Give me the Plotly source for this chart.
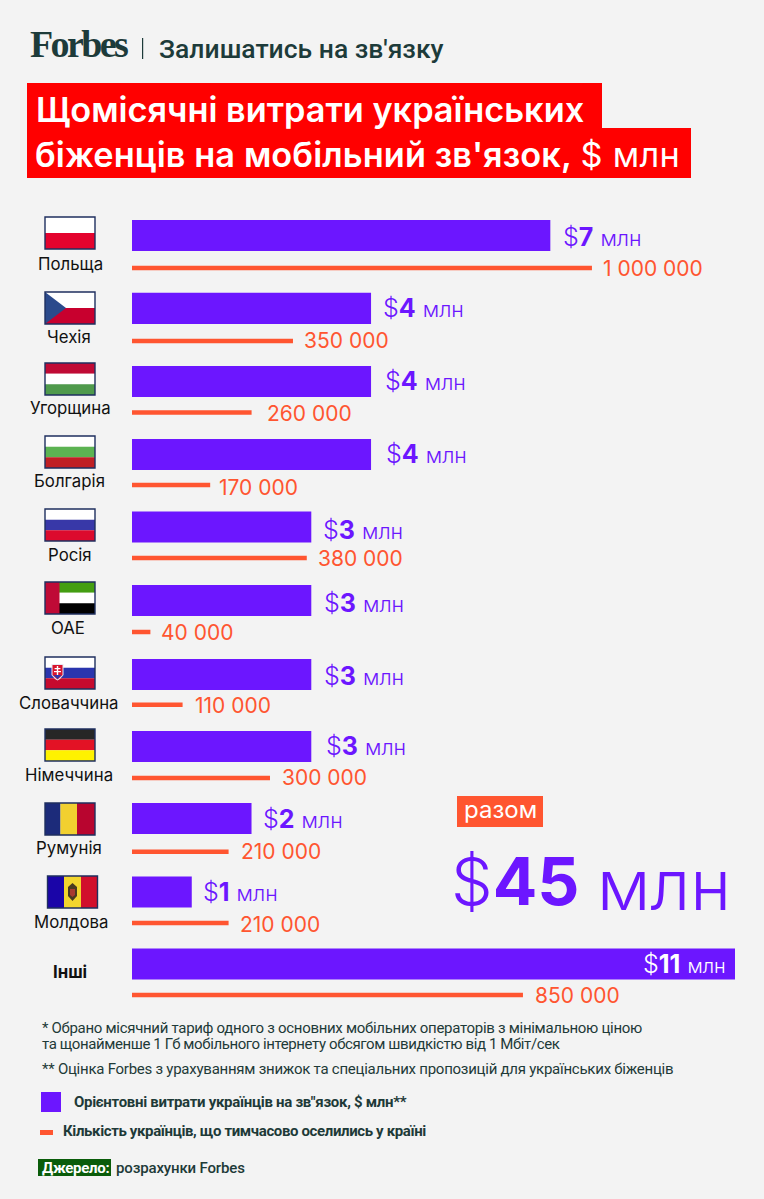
import plotly.graph_objects as go

W, H = 764, 1199
PURPLE = "#6c16ff"
ORANGE = "#ff5530"
DARK = "#1d3b3a"

# data
countries = ["Польща", "Чехія", "Угорщина", "Болгарія", "Росія", "ОАЕ", "Словаччина",
             "Німеччина", "Румунія", "Молдова", "Інші"]
spend_mln = [7, 4, 4, 4, 3, 3, 3, 3, 2, 1, 11]
refugees = [1000000, 350000, 260000, 170000, 380000, 40000, 110000, 300000, 210000, 210000, 850000]
total_mln = 45

# small nudges, in pixels
spend_dx = [12, 11, 13, 14, 11, 12, 12, 14, 10.5, 10]
spend_dy = [1, 0, 0, 0, 3, 3, 3, 1, 1, 1]
people_dx = [10, 10, 14, 8, 10, 10, 11, 11, 11, 10, 11]
people_dy = [1, 0, 0, 1, 0, 1, 1, 1, 2, 2, 0]
bar_nudge = [0, 0, 0.3, 0.5, 0, 0.75, 1.9, 1, 0.2, 0.85, 0]
line_nudge = [0, 0.3, -0.9, -1.1, -0.8, 0.5, 0.5, 1.1, 2.1, 0.7, 0]
label_cx = [70, 69, 70, 69, 70, 68, 69, 69, 69, 71, 70]
label_y = [263.5, 337.5, 408.5, 481.5, 554.5, 627.5, 702.5, 774.5, 848.5, 921.5, 971.5]
flag_top = [217, 292, 363, 436, 509, 582, 657, 729, 803, 876]

PITCH = 72.8
BAR_W = 0.426
LINE_W = 0.062


def px(x):
    return x / W


def py(y):
    return 1 - y / H


fig = go.Figure()
fig.add_trace(go.Bar(x=spend_mln, y=countries, orientation="h", marker_color=PURPLE,
                     marker_line_width=0, width=BAR_W, offset=[n / PITCH - BAR_W / 2 for n in bar_nudge],
                     xaxis="x", yaxis="y"))
fig.add_trace(go.Bar(x=refugees, y=countries, orientation="h", marker_color=ORANGE,
                     marker_line_width=0, width=LINE_W, offset=[n / PITCH - LINE_W / 2 for n in line_nudge],
                     xaxis="x2", yaxis="y2"))

shapes = []
annotations = []


def rect(x0, y0, x1, y1, color, line=None, lw=0):
    shapes.append(dict(type="rect", xref="paper", yref="paper", x0=px(x0), x1=px(x1), y0=py(y0), y1=py(y1),
                       fillcolor=color, line=dict(color=line or color, width=lw), layer="above"))


def poly(points, color):
    p = "M" + " L".join(f"{px(a):.5f},{py(b):.5f}" for a, b in points) + " Z"
    shapes.append(dict(type="path", xref="paper", yref="paper", path=p, fillcolor=color,
                       line=dict(width=0), layer="above"))


def text(x, y, s, size, color="black", family="Inter", anchor="left", weight=None, spacing=None):
    f = dict(size=size, color=color, family=family)
    if weight:
        f["weight"] = weight
    if spacing is not None:
        s = f"<span style='letter-spacing:{spacing}px'>{s}</span>"
    annotations.append(dict(xref="paper", yref="paper", x=px(x), y=py(y), text=s, showarrow=False,
                            xanchor=anchor, yanchor="middle", borderpad=0, font=f))


def h_flag(x, y, cols, w=50, h=32):
    for i, c in enumerate(cols):
        rect(x, y + h * i / len(cols), x + w, y + h * (i + 1) / len(cols), c)


def outline(x, y, w=50, h=32):
    shapes.append(dict(type="rect", xref="paper", yref="paper", x0=px(x), x1=px(x + w), y0=py(y), y1=py(y + h),
                       line=dict(color="#1f2f5f", width=1.4), layer="above"))


# flags
h_flag(45, flag_top[0], ["#ffffff", "#e4032e"])
h_flag(45, flag_top[1], ["#ffffff", "#c8002e"])
poly([(45, flag_top[1]), (66, flag_top[1] + 16), (45, flag_top[1] + 32)], "#2b4a8c")
h_flag(45, flag_top[2], ["#c00a35", "#ffffff", "#4f9a4c"])
h_flag(45, flag_top[3], ["#ffffff", "#5cb352", "#c01f24"])
h_flag(45, flag_top[4], ["#ffffff", "#3838a8", "#dc0a2d"])
t = flag_top[5]
h_flag(45, t, ["#449e12", "#ffffff", "#000000"])
rect(45, t, 59.5, t + 32, "#bf0a36")
t = flag_top[6]
h_flag(45, t, ["#ffffff", "#2a35ae", "#c60a2e"])
poly([(51.5, t + 7), (63.5, t + 7), (63.5, t + 18), (60, t + 22), (57.5, t + 23.5), (55, t + 22), (51.5, t + 18)], "#e8e8f2")
poly([(52.5, t + 8), (62.5, t + 8), (62.5, t + 18), (57.5, t + 22.5), (52.5, t + 18)], "#d8142e")
poly([(53.5, t + 18), (61.5, t + 18), (57.5, t + 22)], "#2a35ae")
rect(56.8, t + 9, 58.2, t + 18, "#ffffff")
rect(54.6, t + 11, 60.4, t + 12.2, "#ffffff")
rect(54, t + 14, 61, t + 15.2, "#ffffff")
h_flag(45, flag_top[7], ["#262626", "#e31225", "#fff200"])
t = flag_top[8]
rect(45, t, 60.5, t + 32, "#1c2b7a")
rect(60.5, t, 77, t + 32, "#f2d030")
rect(77, t, 95, t + 32, "#b8052f")
t = flag_top[9]
rect(47.5, t, 64, t + 32, "#1a05a8")
rect(64, t, 81, t + 32, "#f2d52e")
rect(81, t, 98, t + 32, "#d10f2c")
poly([(68, t + 11), (72.5, t + 7), (77, t + 11), (77, t + 20), (72.5, t + 25), (68, t + 20)], "#4a3a20")
poly([(70, t + 13), (75, t + 13), (75, t + 19), (72.5, t + 21), (70, t + 19)], "#a83a30")
for i, t in enumerate(flag_top):
    outline(47.5 if i == 9 else 45, t)

# header
text(29, 44, "Forbes", 38, DARK, "Liberation Serif", weight=700, spacing=-2.6)
rect(142, 38, 143.2, 59, DARK)
text(157.5, 48, "Залишатись на зв'язку", 26.5, DARK, "Roboto", weight=500)
rect(27, 83, 602, 130, "#ff0000")
rect(27, 128, 691, 178, "#ff0000")
text(35, 109, "Щомісячні витрати українських", 34.3, "white", weight=600)
text(34, 155, "<span style='letter-spacing:0.1px'>біженців на мобільний зв'язок,</span> "
              "<span style='font-weight:400;letter-spacing:0.3px'>$ млн</span>", 34.3, "white", weight=600)

# country names
for i, c in enumerate(countries):
    s = f"<b>{c}</b>" if c == "Інші" else c
    text(label_cx[i], label_y[i], s, 16.8, "#111111", anchor="center")


def money(v, small=21.5):
    return (f"<span style='font-weight:300'>$</span><b>{v}</b> "
            f"<span style='font-size:{small}px;font-weight:350'>млн</span>")


# value labels, tied to the axes
for i in range(10):
    annotations.append(dict(xref="x", yref="y", x=spend_mln[i], y=countries[i], text=money(spend_mln[i]),
                            showarrow=False, xanchor="left", yanchor="middle", xshift=spend_dx[i],
                            yshift=-spend_dy[i], borderpad=0,
                            font=dict(size=25, color=PURPLE, family="Inter")))
for i, r in enumerate(refugees):
    annotations.append(dict(xref="x2", yref="y2", x=r, y=countries[i], text=f"{r:,}".replace(",", " "),
                            showarrow=False, xanchor="left", yanchor="middle", xshift=people_dx[i],
                            yshift=-people_dy[i], borderpad=0,
                            font=dict(size=21, color=ORANGE, family="Inter")))
annotations.append(dict(xref="paper", yref="y", x=px(727), y=countries[10], text=money(spend_mln[10], 20),
                        showarrow=False, xanchor="right", yanchor="middle", borderpad=0,
                        font=dict(size=25, color="white", family="Inter")))

# total
rect(457, 796, 543, 827, ORANGE)
text(500, 809, "разом", 24, "white", anchor="center")
text(450, 881, f"<span style='font-weight:300'>$</span><b>{total_mln}</b>", 66, PURPLE)
text(596, 884, "млн", 70, PURPLE, weight=300)

# footnotes
note = "#1e3a38"
text(41, 1028, "* Обрано місячний тариф одного з основних мобільних операторів з мінімальною ціною", 15, note, "Roboto", spacing=-0.3)
text(41, 1044, "та щонайменше 1 Гб мобільного інтернету обсягом швидкістю від 1 Мбіт/сек", 15, note, "Roboto", spacing=-0.4)
text(41, 1069, "** Оцінка Forbes з урахуванням знижок та спеціальних пропозицій для українських біженців", 15, note, "Roboto", spacing=-0.25)
rect(41, 1092, 61, 1112, PURPLE)
text(73, 1102, "Орієнтовні витрати українців на зв\"язок, $ млн**", 15, note, "Roboto", weight=700, spacing=-0.3)
rect(40, 1130, 53, 1135, ORANGE)
text(62, 1131, "Кількість українців, що тимчасово оселились у країні", 15, note, "Roboto", weight=700, spacing=-0.37)
rect(38, 1159, 111, 1176, "#0a5c0a")
text(41, 1168, "Джерело:", 15, "white", "Roboto", weight=700, spacing=-0.3)
text(115, 1168, "розрахунки Forbes", 15, note, "Roboto", weight=500, spacing=-0.15)

fig.update_layout(
    width=W, height=H, margin=dict(l=0, r=0, t=0, b=0), autosize=False,
    paper_bgcolor="#f3f3f3", plot_bgcolor="rgba(0,0,0,0)", showlegend=False, barmode="overlay",
    shapes=shapes, annotations=annotations,
    # the "others" bar runs off the axis end
    xaxis=dict(domain=[px(132), px(735)], range=[0, 10.09], visible=False, anchor="y"),
    xaxis2=dict(domain=[px(132), px(735)], range=[0, 1311000], visible=False, anchor="y2"),
    yaxis=dict(domain=[py(1000.4), py(199.1)], autorange=False, range=[10.5, -0.5], visible=False,
               categoryorder="array", categoryarray=countries, anchor="x"),
    yaxis2=dict(domain=[py(1031.4), py(231.6)], autorange=False, range=[10.5, -0.5], visible=False,
                categoryorder="array", categoryarray=countries, anchor="x2"),
)

fig.write_html("out.html", post_script="document.body.style.margin='0';", config={"displayModeBar": False})
